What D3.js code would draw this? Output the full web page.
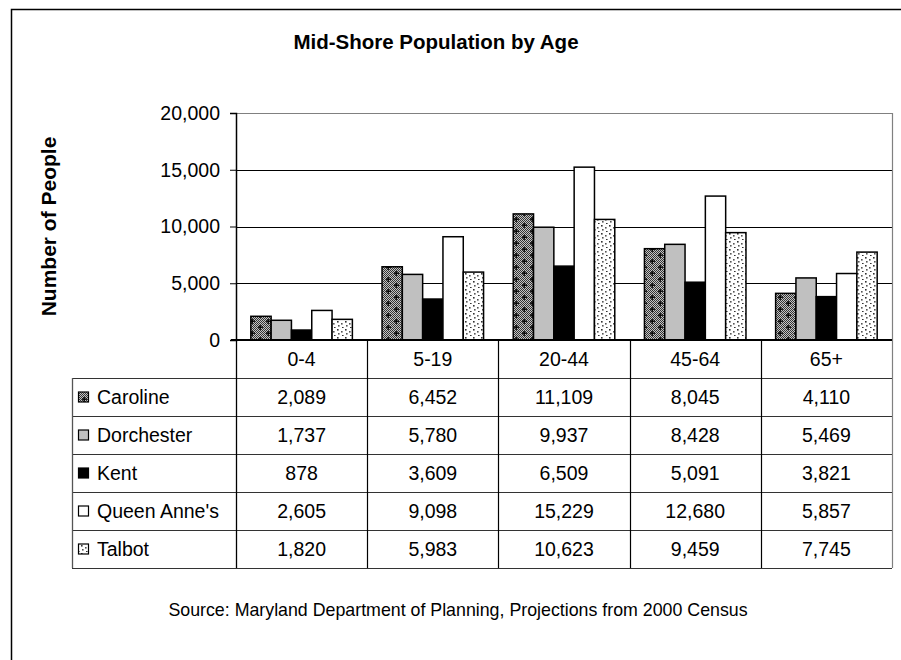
<!DOCTYPE html>
<html><head><meta charset="utf-8">
<script src="https://cdn.jsdelivr.net/npm/d3@7"></script>
<style>
html,body{margin:0;padding:0;background:#fff;}
svg{display:block;}
text{font-family:"Liberation Sans",Arial,sans-serif;fill:#000;}
</style></head>
<body>
<svg id="chart" width="901" height="660"></svg>
<script>
const categories = ["0-4", "5-19", "20-44", "45-64", "65+"];
const seriesNames = ["Caroline", "Dorchester", "Kent", "Queen Anne's", "Talbot"];
const caroline   = [2089, 6452, 11109, 8045, 4110];
const dorchester = [1737, 5780, 9937, 8428, 5469];
const kent       = [878, 3609, 6509, 5091, 3821];
const queenAnnes = [2605, 9098, 15229, 12680, 5857];
const talbot     = [1820, 5983, 10623, 9459, 7745];
const yTicks = [0, 5000, 10000, 15000, 20000];
const titleText = "Mid-Shore Population by Age";
const yTitle = "Number of People";
const sourceText = "Source: Maryland Department of Planning, Projections from 2000 Census";

const seriesValues = [caroline, dorchester, kent, queenAnnes, talbot];

const svg = d3.select("#chart");
const defs = svg.append("defs");

// Pattern: Caroline (dark dither + plus marks)
const pc = defs.append("pattern").attr("id","pCaroline").attr("patternUnits","userSpaceOnUse")
  .attr("width",16).attr("height",12);
pc.append("rect").attr("width",16).attr("height",12).attr("fill","#fff");
for (let x=0;x<16;x++) for (let y=0;y<12;y++) {
  if ((x+y)%2===0) pc.append("rect").attr("x",x).attr("y",y).attr("width",1).attr("height",1).attr("fill","#222");
}
pc.append("rect").attr("x",0).attr("y",0).attr("width",16).attr("height",12).attr("fill","#555").attr("opacity",0.35);
[[4,3],[12,9]].forEach(([cx,cy])=>{
  pc.append("rect").attr("x",cx-2).attr("y",cy-0.5).attr("width",5).attr("height",1.3).attr("fill","#000");
  pc.append("rect").attr("x",cx-0.5).attr("y",cy-2).attr("width",1.3).attr("height",5).attr("fill","#000");
});

// Pattern: Talbot (white with sparse dots)
const pt = defs.append("pattern").attr("id","pTalbot").attr("patternUnits","userSpaceOnUse")
  .attr("width",8).attr("height",8);
pt.append("rect").attr("width",8).attr("height",8).attr("fill","#fff");
[[1,1,"#333"],[5,3,"#555"],[2,5,"#555"],[6,7,"#333"]].forEach(([x,y,c])=>{
  pt.append("rect").attr("x",x).attr("y",y).attr("width",1.6).attr("height",1.6).attr("fill",c);
});

const fills = ["url(#pCaroline)", "#c0c0c0", "#000", "#fff", "url(#pTalbot)"];

// Layout
const plotL = 236, plotR = 892, plotT = 113, plotB = 340;
const tableL = 72, tableB = 568;
const x0 = d3.scaleBand().domain(categories).range([plotL, plotR]).paddingInner(0).paddingOuter(0);
const x1 = d3.scaleBand().domain(seriesNames).range([0, x0.bandwidth()]).paddingInner(0).paddingOuter(0.73);
const y = d3.scaleLinear().domain([0, 20000]).range([plotB, plotT]);
const rowY = d3.scaleBand().domain(seriesNames).range([378, tableB]);

// Outer frame
svg.append("rect").attr("x",11.5).attr("y",9.5).attr("width",900).attr("height",660)
  .attr("fill","none").attr("stroke","#000").attr("stroke-width",1.5);

// Title
svg.append("text").attr("x",436).attr("y",49).attr("text-anchor","middle")
  .style("font-weight","bold").style("font-size","20.5px").text(titleText);

// Gridlines
svg.append("g").selectAll("line").data(yTicks.filter(d=>d>0)).join("line")
  .attr("x1",plotL).attr("x2",plotR)
  .attr("y1",d=>Math.round(y(d))+0.5).attr("y2",d=>Math.round(y(d))+0.5)
  .attr("stroke",d=>d===20000?"#808080":"#000").attr("stroke-width",1);

// Plot right border
svg.append("line").attr("x1",plotR+0.5).attr("x2",plotR+0.5).attr("y1",plotT).attr("y2",tableB)
  .attr("stroke","#808080").attr("stroke-width",1.2);

// Y axis
const yAxis = d3.axisLeft(y).tickValues(yTicks).tickSize(6).tickPadding(10)
  .tickFormat(d3.format(","));
const gy = svg.append("g").attr("transform",`translate(${plotL},0)`).call(yAxis);
gy.select(".domain").attr("stroke","#000").attr("stroke-width",1.5);
gy.selectAll(".tick line").attr("stroke","#000");
gy.selectAll(".tick text").style("font-size","19.5px").style("font-family","'Liberation Sans',Arial,sans-serif");

// Y title
svg.append("text").attr("transform",`translate(56,${(plotT+plotB)/2}) rotate(-90)`)
  .attr("text-anchor","middle").style("font-weight","bold").style("font-size","21px").text(yTitle);

// Bars
const groups = svg.append("g").selectAll("g").data(seriesNames).join("g");
groups.each(function(s, si){
  d3.select(this).selectAll("rect").data(categories).join("rect")
    .attr("x",(c)=>x0(c)+x1(s))
    .attr("width",x1.bandwidth())
    .attr("y",(c,ci)=>y(seriesValues[si][ci]))
    .attr("height",(c,ci)=>plotB-y(seriesValues[si][ci]))
    .attr("fill",fills[si]).attr("stroke","#000").attr("stroke-width",1.5);
});

// Zero axis line
svg.append("line").attr("x1",plotL-5).attr("x2",plotR).attr("y1",plotB).attr("y2",plotB)
  .attr("stroke","#000").attr("stroke-width",2);

// Table
const tg = svg.append("g");
const hLines = seriesNames.map(s=>rowY(s)).concat([tableB]);
tg.selectAll("line.h").data(hLines).join("line").attr("class","h")
  .attr("x1",tableL).attr("x2",plotR).attr("y1",d=>Math.round(d)+0.5).attr("y2",d=>Math.round(d)+0.5)
  .attr("stroke","#333").attr("stroke-width",1.2);
tg.append("line").attr("x1",tableL+0.5).attr("x2",tableL+0.5).attr("y1",378).attr("y2",tableB)
  .attr("stroke","#555").attr("stroke-width",1.3);
tg.selectAll("line.v").data(categories.slice(1)).join("line").attr("class","v")
  .attr("x1",c=>Math.round(x0(c))+0.5).attr("x2",c=>Math.round(x0(c))+0.5)
  .attr("y1",plotB).attr("y2",tableB).attr("stroke","#000").attr("stroke-width",1.2);
tg.append("line").attr("x1",plotL+0.5).attr("x2",plotL+0.5).attr("y1",plotB).attr("y2",tableB)
  .attr("stroke","#000").attr("stroke-width",1.3);

tg.selectAll("text.cat").data(categories).join("text").attr("class","cat")
  .attr("x",c=>x0(c)+x0.bandwidth()/2).attr("y",(plotB+378)/2).attr("dy","0.36em")
  .attr("text-anchor","middle").style("font-size","19.5px").text(c=>c);

seriesNames.forEach((s,si)=>{
  const cy = rowY(s)+rowY.bandwidth()/2;
  tg.append("rect").attr("x",78.5).attr("y",cy-5).attr("width",10).attr("height",10)
    .attr("fill",fills[si]).attr("stroke","#000").attr("stroke-width",1.2);
  tg.append("text").attr("x",97).attr("y",cy).attr("dy","0.36em")
    .style("font-size","19.5px").text(s);
  tg.selectAll(null).data(categories).join("text")
    .attr("x",c=>x0(c)+x0.bandwidth()/2).attr("y",cy).attr("dy","0.36em")
    .attr("text-anchor","middle").style("font-size","19.5px")
    .text((c,ci)=>d3.format(",")(seriesValues[si][ci]));
});

// Source
svg.append("text").attr("x",458).attr("y",616).attr("text-anchor","middle")
  .style("font-size","17.8px").text(sourceText);
</script>
</body></html>
